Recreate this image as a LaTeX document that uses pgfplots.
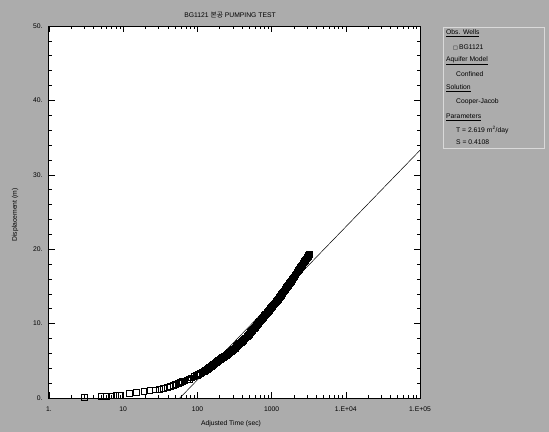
\documentclass[border=0pt]{standalone}
\usepackage{pgfplots}
\pgfplotsset{compat=1.18}
\usepackage{fontspec}
\setmainfont{Liberation Sans}
\newfontfamily\kor{Noto Sans CJK KR}
\newfontfamily\dejavu{DejaVu Sans}
\definecolor{bg}{RGB}{172,172,172}
\begin{document}
\begin{tikzpicture}[x=1bp,y=1bp]
\fill[bg] (0bp,0bp) rectangle (549bp,432bp);
\begin{axis}[
  at={(49bp,34bp)}, anchor=south west, scale only axis,
  width=371bp, height=372bp,
  xmode=log, xmin=1, xmax=100000, ymin=0, ymax=50,
  axis background/.style={fill=white},
  axis line style={line width=1bp},
  xtick={1,10,100,1000,10000,100000},
  xticklabels={1.,10,100,1000,1.E+04,1.E+05},
  ytick={0,10,20,30,40,50},
  yticklabels={0.,10.,20.,30.,40.,50.},
  minor y tick num=4,
  major tick length=6bp, minor tick length=3bp,
  tick style={black, line width=0.6bp},
  tick label style={font=\fontsize{6.8}{7}\selectfont},
  xticklabel style={yshift=-5bp},
  yticklabel style={xshift=-3bp},
  /pgf/number format/assume math mode=true,
]
\addplot[only marks, mark=square, mark size=2.9bp, mark options={line width=0.9bp, fill=white, draw=black}] coordinates {
(3,0.12) (5,0.2) (6,0.24) (7,0.28) (8,0.32) (9,0.36)
(12,0.6) (15,0.72) (19,0.85) (23,0.97) (27,1.07) (31,1.17) (35,1.28) (39,1.4)
(43,1.52) (47,1.65) (51,1.78) (55,1.92) (59,2.05) (63,2.18) (68,2.3) (73,2.42)
(78,2.54) (84,2.7) (90,2.85) (97,3.0) (100,3.07) (104,3.15) (107,3.22) (111,3.3)
(115,3.4) (119,3.5) (123,3.59) (127,3.68) (131,3.78) (136,3.88) (140,3.98)
(145,4.08) (150,4.18) (155,4.28) (160,4.38) (165,4.48) (170,4.59) (176,4.7)
(182,4.81) (188,4.92) (194,5.02) (200,5.12) (206,5.22) (213,5.32) (219,5.41)
(226,5.5) (233,5.58) (240,5.66) (245,5.73) (251,5.8) (258,5.89) (265,5.98)
(272,6.08) (280,6.18) (288,6.28) (296,6.38) (304,6.49) (313,6.6) (322,6.71)
(331,6.82) (340,6.93) (350,7.05) (360,7.16) (370,7.28) (380,7.39) (391,7.5)
(402,7.61) (413,7.73) (425,7.84) (437,7.96) (451,8.08) (466,8.2) (477,8.32)
(488,8.44) (499,8.56) (511,8.68) (523,8.8) (535,8.92) (547,9.04) (560,9.16)
(573,9.28) (586,9.4) (600,9.52) (614,9.64) (628,9.76) (643,9.88) (658,10.0)
(673,10.12) (689,10.24) (705,10.36) (721,10.48) (738,10.6) (755,10.72) (773,10.84)
(791,10.96) (809,11.08) (828,11.19) (847,11.3) (867,11.4) (887,11.52) (908,11.65)
(929,11.78) (951,11.9) (973,12.02) (995,12.15) (1018,12.28) (1042,12.4) (1066,12.52)
(1091,12.65) (1117,12.78) (1143,12.9) (1170,13.02) (1197,13.15) (1225,13.28)
(1253,13.4) (1282,13.52) (1312,13.65) (1343,13.78) (1374,13.9) (1399,14.0)
(1425,14.1) (1459,14.25) (1493,14.39) (1528,14.54) (1563,14.68) (1600,14.82)
(1637,14.97) (1675,15.12) (1714,15.26) (1754,15.4) (1795,15.55) (1837,15.7)
(1879,15.84) (1923,15.98) (1968,16.13) (2014,16.28) (2061,16.42) (2130,16.6)
(2200,16.8) (2250,16.95) (2301,17.1) (2355,17.25) (2410,17.4) (2466,17.55)
(2523,17.7) (2582,17.85) (2642,18.0) (2704,18.15) (2767,18.3) (2831,18.45)
(2897,18.6) (2948,18.7) (3000,18.8) (3052,18.92) (3105,19.05) (3152,19.15) (3200,19.25)
};
\addplot[black, line width=0.5bp] coordinates {(58,0) (100000,33.3)};
\end{axis}
% titles and labels
\node[font=\fontsize{6.8}{7}\selectfont] at (230bp,417bp) {BG1121 {\kor 본공} PUMPING TEST};
\node[font=\fontsize{6.8}{7}\selectfont] at (231bp,8bp) {Adjusted Time (sec)};
\node[font=\fontsize{6.8}{7}\selectfont, rotate=90] at (15bp,217bp) {Displacement (m)};
% info panel
\draw[white!85!black, line width=0.6bp] (443bp,284bp) rectangle (544bp,405bp);
\begin{scope}[every node/.style={anchor=west, inner sep=0pt, font=\fontsize{6.8}{7}\selectfont}]
\node at (446bp,399bp) {\underline{Obs. Wells}};
\node at (453bp,385bp) {{\dejavu\fontsize{5}{6}\selectfont □}\,BG1121};
\node at (446bp,371bp) {\underline{Aquifer Model}};
\node at (456bp,358bp) {Confined};
\node at (446bp,344bp) {\underline{Solution}};
\node at (456bp,330bp) {Cooper-Jacob};
\node at (446bp,315bp) {\underline{Parameters}};
\node at (456bp,302bp) {T = 2.619 m\textsuperscript{2}/day};
\node at (456bp,290bp) {S = 0.4108};
\end{scope}
\end{tikzpicture}
\end{document}
